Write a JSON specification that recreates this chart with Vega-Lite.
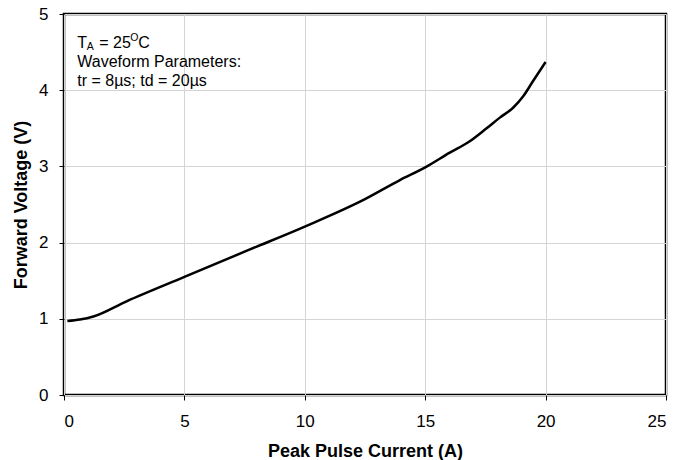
{
  "$schema": "https://vega.github.io/schema/vega-lite/v6.json",
  "autosize": "none",
  "width": 602,
  "height": 381,
  "padding": {"left": 64, "top": 14, "right": 12, "bottom": 65},
  "background": "white",
  "config": {
    "font": "Liberation Sans",
    "view": {"stroke": "black", "strokeWidth": 2.5},
    "text": {"font": "Liberation Sans", "fontWeight": "normal"},
    "axis": {
      "domain": false,
      "grid": true,
      "gridColor": "#d4d4d4",
      "gridWidth": 1,
      "tickColor": "black",
      "tickSize": 5,
      "tickWidth": 1,
      "labelFont": "Liberation Sans",
      "labelFontSize": 17,
      "labelColor": "black",
      "titleFont": "Liberation Sans",
      "titleFontSize": 18,
      "titleFontWeight": "bold",
      "titleColor": "black"
    }
  },
  "layer": [
    {
      "data": {
        "values": [
          {"current": 0.14, "voltage": 0.97},
          {"current": 0.66, "voltage": 0.99},
          {"current": 1.22, "voltage": 1.03},
          {"current": 2.6, "voltage": 1.23},
          {"current": 5.0, "voltage": 1.55},
          {"current": 7.72, "voltage": 1.91},
          {"current": 10.0, "voltage": 2.21},
          {"current": 12.5, "voltage": 2.57},
          {"current": 13.95, "voltage": 2.82},
          {"current": 15.02, "voltage": 2.99},
          {"current": 16.02, "voltage": 3.18},
          {"current": 16.85, "voltage": 3.33},
          {"current": 17.55, "voltage": 3.5},
          {"current": 18.1, "voltage": 3.64},
          {"current": 18.65, "voltage": 3.77},
          {"current": 19.07, "voltage": 3.92},
          {"current": 19.48, "voltage": 4.12},
          {"current": 20.0, "voltage": 4.37}
        ]
      },
      "mark": {"type": "line", "color": "black", "strokeWidth": 2.5, "interpolate": "monotone"},
      "encoding": {
        "x": {
          "field": "current", "type": "quantitative",
          "scale": {"domain": [0, 25], "nice": false},
          "axis": {"values": [0, 5, 10, 15, 20, 25], "format": "d", "title": "Peak Pulse Current (A)", "labelPadding": 13, "titlePadding": 13}
        },
        "y": {
          "field": "voltage", "type": "quantitative",
          "scale": {"domain": [0, 5], "nice": false},
          "axis": {"values": [0, 1, 2, 3, 4, 5], "format": "d", "title": "Forward Voltage (V)", "labelPadding": 11, "titlePadding": 8}
        }
      }
    },
    {
      "data": {"values": [{"ax": 0.55, "ay": 4.56}]},
      "mark": {"type": "text", "text": "T", "fontSize": 16, "fontWeight": "normal", "align": "left", "baseline": "alphabetic", "color": "black"},
      "encoding": {"x": {"field": "ax", "type": "quantitative"}, "y": {"field": "ay", "type": "quantitative"}}
    },
    {
      "data": {"values": [{"ax": 0.55, "ay": 4.56}]},
      "mark": {"type": "text", "text": "A", "fontSize": 10.5, "fontWeight": "normal", "align": "left", "baseline": "alphabetic", "dx": 9.5, "dy": 2, "color": "black"},
      "encoding": {"x": {"field": "ax", "type": "quantitative"}, "y": {"field": "ay", "type": "quantitative"}}
    },
    {
      "data": {"values": [{"ax": 0.55, "ay": 4.56}]},
      "mark": {"type": "text", "text": "= 25", "fontSize": 16, "fontWeight": "normal", "align": "left", "baseline": "alphabetic", "dx": 22, "color": "black"},
      "encoding": {"x": {"field": "ax", "type": "quantitative"}, "y": {"field": "ay", "type": "quantitative"}}
    },
    {
      "data": {"values": [{"ax": 0.55, "ay": 4.56}]},
      "mark": {"type": "text", "text": "O", "fontSize": 10.5, "fontWeight": "normal", "align": "left", "baseline": "alphabetic", "dx": 53, "dy": -6.5, "color": "black"},
      "encoding": {"x": {"field": "ax", "type": "quantitative"}, "y": {"field": "ay", "type": "quantitative"}}
    },
    {
      "data": {"values": [{"ax": 0.55, "ay": 4.56}]},
      "mark": {"type": "text", "text": "C", "fontSize": 16, "fontWeight": "normal", "align": "left", "baseline": "alphabetic", "dx": 61, "color": "black"},
      "encoding": {"x": {"field": "ax", "type": "quantitative"}, "y": {"field": "ay", "type": "quantitative"}}
    },
    {
      "data": {"values": [{"ax": 0.55, "ay": 4.30}]},
      "mark": {"type": "text", "text": "Waveform Parameters:", "fontSize": 16, "fontWeight": "normal", "align": "left", "baseline": "alphabetic", "color": "black"},
      "encoding": {"x": {"field": "ax", "type": "quantitative"}, "y": {"field": "ay", "type": "quantitative"}}
    },
    {
      "data": {"values": [{"ax": 0.55, "ay": 4.05}]},
      "mark": {"type": "text", "text": "tr = 8µs; td = 20µs", "fontSize": 16, "fontWeight": "normal", "align": "left", "baseline": "alphabetic", "color": "black"},
      "encoding": {"x": {"field": "ax", "type": "quantitative"}, "y": {"field": "ay", "type": "quantitative"}}
    }
  ]
}
